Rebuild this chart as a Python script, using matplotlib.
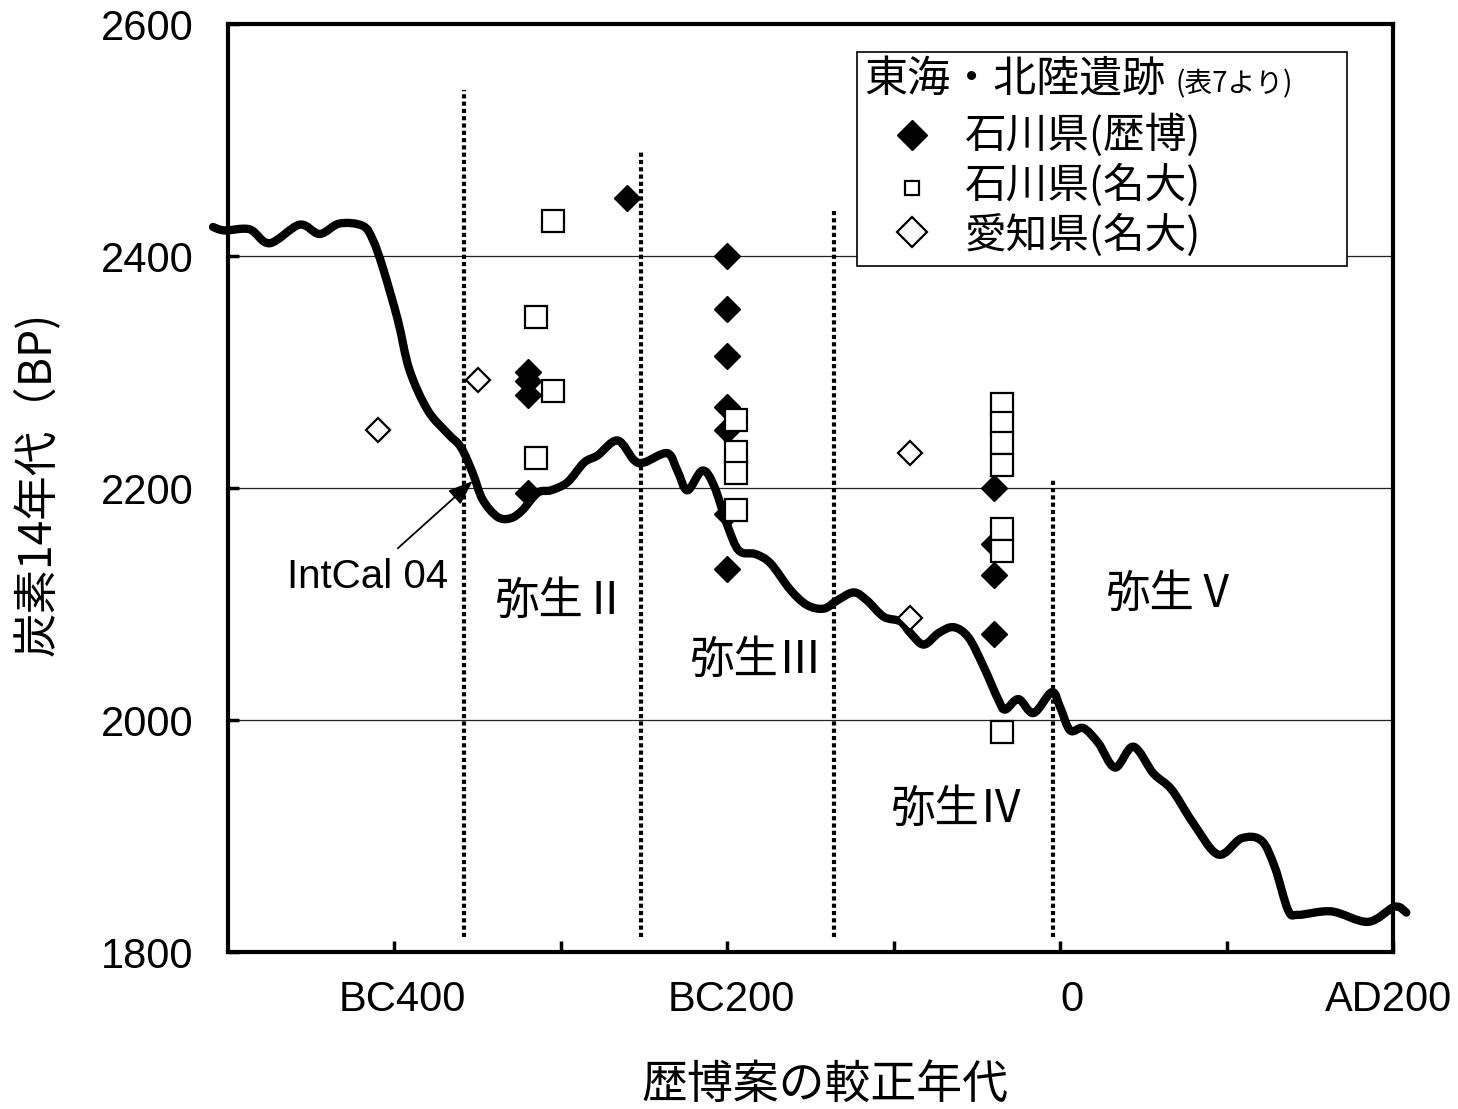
import matplotlib
matplotlib.use("Agg")
import numpy as np
import matplotlib.pyplot as plt
from matplotlib.patches import Rectangle, PathPatch
from matplotlib.path import Path
from matplotlib.lines import Line2D
from matplotlib.ticker import FixedLocator, FuncFormatter
import matplotlib.transforms as mtransforms

plt.rcParams['font.family'] = ['Noto Sans CJK JP', 'DejaVu Sans']

# IntCal04 calibration curve (calendar year, 14C BP)
intcal_year = [-509, -502, -487, -475, -457, -445, -433, -419, -413, -407,
               -398, -391, -380, -368, -360, -353, -347, -338, -330, -323,
               -314, -306, -296, -286, -278, -266, -256, -250, -236, -230,
               -224, -215, -208, -200, -193, -183, -174, -162, -152, -142,
               -134, -124, -116, -106, -96, -90, -82, -73, -64, -55,
               -46, -37, -33, -25, -16, -5, 0, 6, 14, 23,
               33, 44, 56, 67, 80, 95, 109, 121, 129, 137,
               143, 163, 185, 201, 208]
intcal_bp = [2425, 2422, 2423, 2411, 2427, 2419, 2428, 2426, 2414, 2390,
             2345, 2302, 2267, 2247, 2235, 2213, 2190, 2175, 2174, 2181,
             2196, 2198, 2205, 2222, 2228, 2241, 2224, 2222, 2230, 2215,
             2198, 2215, 2202, 2168, 2146, 2143, 2135, 2112, 2099, 2096,
             2103, 2110, 2103, 2089, 2085, 2075, 2065, 2075, 2080, 2071,
             2046, 2017, 2009, 2018, 2006, 2024, 2011, 1991, 1993, 1980,
             1959, 1977, 1954, 1940, 1911, 1884, 1898, 1896, 1873, 1836,
             1832, 1835, 1826, 1839, 1834]

# 石川県 (歴博)
rekihaku_year = [-260, -320, -320, -320, -320, -200, -200, -200, -200, -200,
                 -200, -200, -40, -40, -40, -40]
rekihaku_bp = [2450, 2300, 2292, 2280, 2196, 2400, 2354, 2314, 2270, 2250,
               2178, 2130, 2200, 2152, 2125, 2074]

# 石川県 (名大)
ishikawa_nu_year = [-305, -315, -305, -315, -195, -195, -195, -195,
                    -35, -35, -35, -35, -35, -35, -35]
ishikawa_nu_bp = [2430, 2347, 2284, 2226, 2259, 2231, 2213, 2181,
                  2272, 2256, 2239, 2220, 2165, 2146, 1990]

# 愛知県 (名大)
aichi_year = [-410, -350, -90, -90]
aichi_bp = [2250, 2293, 2230, 2088]

# Yayoi phase boundaries (year, upper end of dotted line)
boundary_year = [-358, -252, -136, -4]
boundary_top = [2543, 2491, 2440, 2209]
boundary_bottom = 1813

phase_labels = ['弥生Ⅱ', '弥生Ⅲ', '弥生Ⅳ', '弥生Ⅴ']
phase_x = [-300, -183, -62, 67]
phase_y = [2103, 2052, 1923, 2109]

x_ticks = [-400, -300, -200, -100, 0, 100, 200]
x_tick_labels = {-400: 'BC400', -200: 'BC200', 0: '0', 200: 'AD200'}
y_ticks = [1800, 2000, 2200, 2400, 2600]


def smooth_path(xs, ys):
    """Catmull-Rom style Bezier path passing through every given point."""
    pts = np.column_stack([xs, ys]).astype(float)
    verts = [pts[0]]
    codes = [Path.MOVETO]
    n = len(pts)
    for i in range(n - 1):
        p0 = pts[max(i - 1, 0)]
        p1 = pts[i]
        p2 = pts[i + 1]
        p3 = pts[min(i + 2, n - 1)]
        c1 = p1 + (p2 - p0) / 6.0
        c2 = p2 - (p3 - p1) / 6.0
        verts += [c1, c2, p2]
        codes += [Path.CURVE4] * 3
    return Path(verts, codes)


fig = plt.figure(figsize=(14.58, 11.09), dpi=100)
ax = fig.add_axes([228 / 1458, 1 - 952 / 1109, 1165 / 1458, 928 / 1109])
ax.set_xlim(-500, 200)
ax.set_ylim(1800, 2600)

# horizontal grid
for yv in y_ticks[1:-1]:
    ax.axhline(yv, color='#222222', lw=0.9, zorder=1)

# phase boundaries
for bx, bt in zip(boundary_year, boundary_top):
    ax.plot([bx, bx], [boundary_bottom, bt], color='black', lw=3.0,
            linestyle=(0, (1.0, 0.75)), dash_capstyle='butt', zorder=2)

# calibration curve (smoothed line through the points)
curve = PathPatch(smooth_path(intcal_year, intcal_bp), facecolor='none',
                  edgecolor='black', lw=6.0, joinstyle='round',
                  capstyle='round', zorder=3, transform=ax.transData,
                  clip_on=False)
ax.add_patch(curve)

# measured dates
ax.plot(rekihaku_year, rekihaku_bp, linestyle='none', marker='D', ms=13,
        mfc='black', mec='black', mew=1, zorder=4)
ax.plot(ishikawa_nu_year, ishikawa_nu_bp, linestyle='none', marker='s',
        ms=15.5, mfc='white', mec='black', mew=1.6, zorder=5)
ax.plot(aichi_year, aichi_bp, linestyle='none', marker='D', ms=12.5,
        mfc='white', mec='black', mew=1.6, zorder=5)

# phase names
for lab, px, py in zip(phase_labels, phase_x, phase_y):
    ax.text(px, py, lab, fontsize=32, ha='center', va='center', zorder=6)

# IntCal label with pointer
ax.text(-416, 2123, 'IntCal 04', fontsize=29,
        family=['Liberation Sans', 'DejaVu Sans'],
        ha='center', va='center', zorder=6)
ax.annotate('', xy=(-353, 2206), xytext=(-398, 2148), zorder=6,
            arrowprops=dict(arrowstyle='-|>,head_length=0.8,head_width=0.3',
                            color='black', lw=1.3,
                            mutation_scale=19, shrinkA=0, shrinkB=0))

# axes styling
for sp in ax.spines.values():
    sp.set_linewidth(3)
    sp.set_zorder(7)
ax.xaxis.set_major_locator(FixedLocator(x_ticks))
ax.xaxis.set_major_formatter(FuncFormatter(lambda v, p: x_tick_labels.get(int(round(v)), '')))
ax.yaxis.set_major_locator(FixedLocator(y_ticks))
ax.tick_params(axis='both', direction='in', length=8, width=2.5, labelsize=30)
ax.tick_params(axis='y', pad=25)
ax.tick_params(axis='x', pad=20)
for lab in ax.get_xticklabels() + ax.get_yticklabels():
    lab.set_family(['Liberation Sans', 'DejaVu Sans'])

# small horizontal nudges of the year labels
fig.canvas.draw()
label_nudge = {'BC400': 8, 'BC200': 4, '0': 12, 'AD200': -4}
for lab in ax.get_xticklabels():
    dx = label_nudge.get(lab.get_text(), 0)
    if dx:
        shift = mtransforms.ScaledTranslation(dx / 100, 0, fig.dpi_scale_trans)
        lab.set_transform(lab.get_transform() + shift)

ax.set_xlabel('歴博案の較正年代', fontsize=33, va='center')
ax.xaxis.set_label_coords((825 - 228) / 1165, -(1085 - 952) / 928)
ax.set_ylabel('炭素14年代（BP)', fontsize=32, va='center')
ax.yaxis.set_label_coords((36 - 228) / 1165, (952 - 484) / 928)


def fx(px):
    return (px - 228) / 1165


def fy(py):
    return (952 - py) / 928


# legend block
ax.add_patch(Rectangle((fx(857), fy(266)), fx(1347) - fx(857), fy(52) - fy(266),
                       transform=ax.transAxes, facecolor='white',
                       edgecolor='black', lw=1.2, zorder=8))
ax.text(fx(864), fy(81), '東海・北陸遺跡', transform=ax.transAxes,
        fontsize=31, ha='left', va='center', zorder=9)
ax.text(fx(1176), fy(84), '(表7より)', transform=ax.transAxes,
        fontsize=20, ha='left', va='center', zorder=9)
legend_rows = ['石川県(歴博)', '石川県(名大)', '愛知県(名大)']
row_y = [135, 185, 235]
for txt, ry in zip(legend_rows, row_y):
    ax.text(fx(965), fy(ry), txt, transform=ax.transAxes,
            fontsize=30, ha='left', va='center', zorder=9)
ax.add_line(Line2D([fx(912)], [fy(135)], transform=ax.transAxes, marker='D',
                   ms=15.5, mfc='black', mec='black', linestyle='none', zorder=9))
ax.add_line(Line2D([fx(912)], [fy(188)], transform=ax.transAxes, marker='s',
                   ms=9.5, mfc='white', mec='black', mew=1.6, linestyle='none', zorder=9))
ax.add_line(Line2D([fx(912)], [fy(232)], transform=ax.transAxes, marker='D',
                   ms=15.5, mfc='white', mec='black', mew=1.6, linestyle='none', zorder=9))

fig.savefig('out.png', dpi=100)
